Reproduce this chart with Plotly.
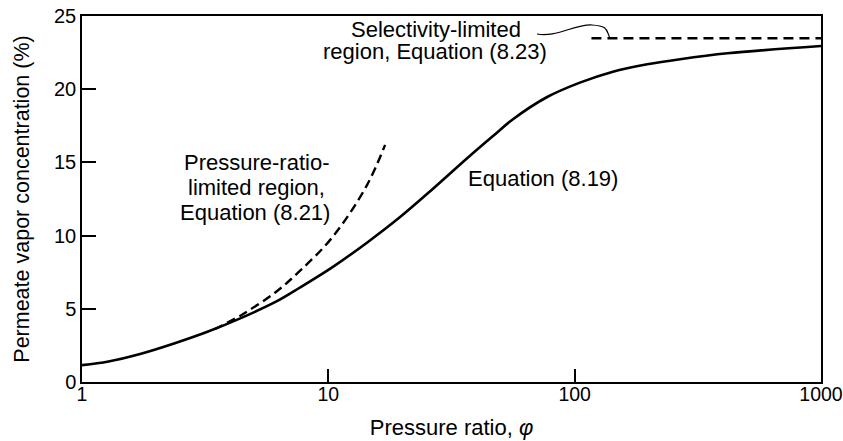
import plotly.graph_objects as go
import math

# --- data ---
phi_eq819 = [1.0, 1.28, 1.75, 2.38, 3.25, 4.46, 6.07, 7.66, 10.4, 14.3, 19.5, 26.6, 36.7, 46.6,
             56.2, 77, 105, 143, 197, 268, 417, 1000]
conc_eq819 = [1.15, 1.4, 1.95, 2.65, 3.45, 4.4, 5.45, 6.45, 7.85, 9.5, 11.25, 13.2, 15.3, 16.8,
              17.95, 19.45, 20.45, 21.2, 21.7, 22.05, 22.45, 22.95]

phi_eq821 = [3.45, 4.46, 6.07, 7.68, 10.4, 14.3, 17.0]
conc_eq821 = [3.6, 4.6, 6.1, 7.6, 9.9, 13.4, 16.2]

phi_eq823 = [117, 1000]
conc_eq823 = [23.48, 23.48]

x_tickvals = [1, 10, 100, 1000]
x_ticktext = ["1", "10", "100", "1000"]
y_tickvals = [0, 5, 10, 15, 20, 25]

FONT = "Liberation Sans, Arial, Helvetica, sans-serif"

fig = go.Figure()
fig.add_trace(go.Scatter(x=phi_eq819, y=conc_eq819, mode="lines",
                         line=dict(color="black", width=2.6, shape="spline", smoothing=1.0),
                         showlegend=False, hoverinfo="skip"))
fig.add_trace(go.Scatter(x=phi_eq821, y=conc_eq821, mode="lines",
                         line=dict(color="black", width=2.4, dash="9px,5px", shape="spline", smoothing=1.0),
                         showlegend=False, hoverinfo="skip"))
fig.add_trace(go.Scatter(x=phi_eq823, y=conc_eq823, mode="lines",
                         line=dict(color="black", width=2.4, dash="10px,6px"),
                         showlegend=False, hoverinfo="skip"))

def ann(text, x, y):
    fig.add_annotation(text=text, x=math.log10(x), y=y, xref="x", yref="y",
                       showarrow=False, xanchor="center", yanchor="middle",
                       font=dict(family=FONT, size=22, color="black"))

ann("Pressure-ratio-", 5.09, 14.96)
ann("limited region,", 5.09, 13.3)
ann("Equation (8.21)", 5.05, 11.6)
ann("Equation (8.19)", 74.5, 13.87)
ann("Selectivity-limited", 27.4, 24.1)
ann("region, Equation (8.23)", 27.0, 22.6)

# curly leader line from the label to the selectivity-limited line (paper coordinates)
fig.add_shape(type="path", xref="paper", yref="paper",
              path="M 0.6157,0.9508 C 0.6401,0.9399 0.6671,0.9781 0.6901,0.9754 S 0.7090,0.9617 0.7145,0.9391",
              line=dict(color="black", width=1.2))

fig.update_layout(
    width=843, height=441,
    margin=dict(l=82, r=22, t=16, b=59),
    paper_bgcolor="white", plot_bgcolor="white",
    font=dict(family=FONT, size=20, color="black"),
)
fig.update_xaxes(type="log", range=[-0.0001, 3.0001], tickvals=x_tickvals, ticktext=x_ticktext,
                 ticks="inside", ticklen=13, tickwidth=1.5, tickcolor="black",
                 showline=True, linecolor="black", linewidth=1.5, mirror=True,
                 showgrid=False, zeroline=False, automargin=False,
                 ticklabeloverflow="allow",
                 tickfont=dict(size=19.5), ticklabelstandoff=-6,
                 title=dict(text="Pressure ratio, <i>φ</i>", font=dict(size=22), standoff=15))
fig.update_yaxes(range=[0, 25.0001], tickvals=y_tickvals,
                 ticks="inside", ticklen=14, tickwidth=1.5, tickcolor="black",
                 showline=True, linecolor="black", linewidth=1.5, mirror=True,
                 showgrid=False, zeroline=False, automargin=False,
                 ticklabeloverflow="allow",
                 tickfont=dict(size=20),
                 title=dict(text="Permeate vapor concentration (%)", font=dict(size=21.5), standoff=18))

# remove the default page margin so the figure fills the window exactly; hide the modebar
fig.write_html("out.html", config={"displayModeBar": False},
               post_script="document.body.style.margin='0';document.documentElement.style.overflow='hidden';")
